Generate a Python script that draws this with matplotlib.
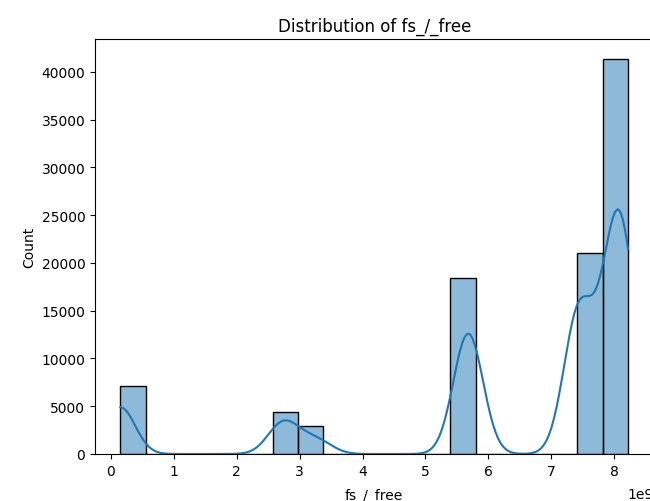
import numpy as np
import matplotlib
matplotlib.use("Agg")
import matplotlib.pyplot as plt
import seaborn as sns

# Representative values (bytes) and how many samples sit at each value
values = [0.15e9, 2.72e9, 3.0e9, 3.3e9, 5.68e9, 7.43e9, 7.83e9, 8.05e9, 8.22e9]
counts = [7150, 4360, 1200, 1760, 18400, 21000, 6000, 24500, 10860]

title = "Distribution of fs_/_free"
xlabel = "fs_/_free"
ylabel = "Count"

data = np.repeat(np.array(values), counts)

fig = plt.figure(figsize=(6.5, 5.02), dpi=100)
ax = fig.add_axes([95 / 650, 47 / 502, (653.4 - 95) / 650, (455 - 40) / 502])
sns.histplot(data, bins=20, kde=True, ax=ax)
ax.set_title(title)
ax.set_xlabel(xlabel, labelpad=7.5)
ax.set_ylabel(ylabel)
ax.xaxis.OFFSETTEXTPAD = 7
fig.savefig("out.png", dpi=100)
